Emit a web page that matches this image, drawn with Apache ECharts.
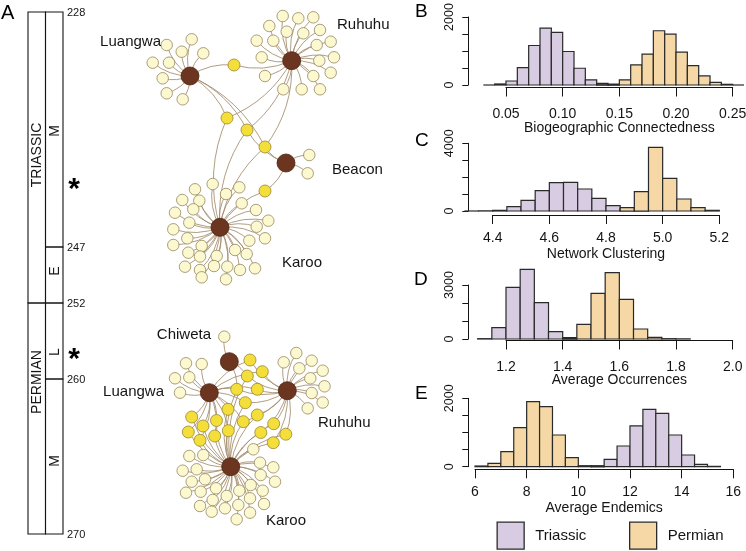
<!DOCTYPE html>
<html><head><meta charset="utf-8">
<script src="https://cdn.jsdelivr.net/npm/echarts@6/dist/echarts.min.js"></script>
<style>html,body{margin:0;padding:0;background:#fff}#c{width:746px;height:551px}</style>
</head><body><div id="c"></div>
<script>
// ================= DATA =================
// Panel A: geologic time scale (Ma)
const boundaryAges = [228, 247, 252, 260, 270];
const periodNames = ['TRIASSIC', 'PERMIAN'];
const periodBounds = [[228, 252], [252, 270]];
const epochNames = ['M', 'E', 'L', 'M'];
const epochBounds = [[228, 247], [247, 252], [252, 260], [260, 270]];
const starAges = [241.8, 257.2];

// Panel B: Biogeographic Connectedness (bin width 0.01)
const bTriStart = 0.03, bPermStart = 0.13, bWidth = 0.01;
const bTriassic = [0, 30, 118, 512, 1162, 1675, 1547, 985, 493, 148, 49, 20];
const bPermian  = [5, 20, 148, 591, 906, 1596, 1497, 965, 571, 266, 79, 20, 0];
// Panel C: Network Clustering (bin width 0.05)
const cTriStart = 4.30, cPermStart = 4.85, cWidth = 0.05;
const cTriassic = [0, 10, 39, 256, 630, 1202, 1675, 1695, 1300, 749, 315, 138, 20];
const cPermian  = [197, 1143, 3763, 1931, 709, 197, 39];
// Panel D: Average Occurrences (bin width 0.05)
const dTriStart = 1.10, dPermStart = 1.40, dWidth = 0.05;
const dTriassic = [18, 630, 2870, 3870, 2018, 407, 74];
const dPermian  = [37, 815, 2537, 3685, 2204, 556, 93, 18, 9];
// Panel E: Average Endemics (bin width 0.5)
const ePermStart = 6.0, eTriStart = 10.5, eWidth = 0.5;
const ePermian  = [20, 98, 439, 1142, 1903, 1757, 927, 264, 29, 10];
const eTriassic = [29, 215, 605, 1191, 1679, 1562, 927, 342, 68, 10];

// Networks (layout coordinates of the drawn graph)
const triHubNames = ['Luangwa', 'Ruhuhu', 'Beacon', 'Karoo'];
const triHubPos = [[190, 76], [291.7, 60.7], [286, 163], [220, 227.3]];
const triLuangwaLeaves = [[191.7,39.3],[166.7,45],[181.7,51.7],[203.3,53.3],[152.7,62.7],[169,62.7],[162.7,78.3],[166.7,93.3],[182.7,99.3]];
const triRuhuhuLeaves = [[282.7,16],[298.3,18.3],[313.3,17.3],[269.3,26],[286.7,31.7],[303.3,33.3],[320,30],[256.7,40.7],[273.3,40.7],[316.7,45],[330.7,41.7],[261.7,57.3],[319.3,60.7],[334,57.3],[265,76],[313.3,76],[330.7,72.7],[283.3,89.3],[301.7,89.3],[320,89.3]];
const triBeaconLeaves = [[309.3,155],[307.7,173.3]];
const triKarooLeaves = [[212.7,184],[239.3,187.3],[195,189.3],[226,194],[182.3,200],[199.3,200.7],[241.7,203.3],[193.3,209.3],[256,210],[175,212.7],[189.3,222.7],[268.3,220.7],[256.7,226.7],[173.3,229.3],[187.3,238.3],[249.3,240.7],[265,238.3],[173.3,245],[201.7,246],[235,250],[246.7,254],[188.3,252.7],[200,256.5],[216.7,256],[185,266.7],[200,270],[214,266],[227.3,266.7],[240,270],[255,268.3],[201.7,277.3],[226,279.3]];
const triShared = [[234,65],[227,118],[247,130],[265,147],[265,191]];
const triSharedHubs = [[0,1],[0,1,3],[0,1,2,3],[0,1,2,3],[2,3]];

const permHubNames = ['Chiweta', 'Luangwa', 'Ruhuhu', 'Karoo'];
const permHubPos = [[229.3,361.7],[209.3,392.7],[287.3,390.7],[230.7,466.7]];
const permChiwetaLeaves = [[224.3,336.7]];
const permLuangwaLeaves = [[186,363.3],[201.7,364],[175,378.3],[189.3,377.3],[180,392.7]];
const permRuhuhuLeaves = [[296.3,353],[283.7,362.3],[311.7,360.7],[299.3,368.3],[322.7,370.7],[310.3,378.3],[324.5,386.3],[311.7,393],[322.7,402.5],[307.7,408.3]];
const permKarooLeaves = [[253.3,449.3],[189.3,456],[203.3,455],[260,462.7],[273.3,467.3],[182.7,470.7],[196.7,469.3],[260.7,475],[275,481.7],[191.7,481.7],[205,479.3],[250.7,485],[262.7,490.7],[186,492.7],[200.7,491.7],[216,488.3],[239.3,490.7],[226.7,496],[212.7,500],[250,498.3],[264,504],[200,506],[238.3,505],[225,508.3],[211.7,511.7],[250,512.7],[236.7,519.3]];
const permShared = [[250,360],[262.3,371.7],[247.3,376],[236.7,389.3],[257.3,389.3],[245.3,402.7],[228,409.3],[191.7,417],[216.5,420.5],[243.3,421.7],[257.3,415],[273.7,423.7],[203,426],[228.3,430.7],[188.3,432],[214.7,436],[260.8,432.5],[285.8,434.2],[200,440.3],[273.3,442.7]];
const permSharedHubs = [[1,2],[1,2],[0,2,3],[0,1,2,3],[1,2],[1,2,3],[1,3],[1,3],[1,3],[1,2,3],[2,3],[2,3],[1,3],[1,3],[1,3],[1,3],[2,3],[2,3],[1,3],[2,3]];

const legendNames = ['Triassic', 'Permian'];

// ================= STYLE / LAYOUT =================
const FONT = '"Liberation Sans", Arial, Helvetica, sans-serif';
const INK = '#141414';
const TRI_FILL = '#d8cce2', PERM_FILL = '#f5d8a5', BAR_STROKE = '#2a2a2a';
// display position (px from column top) of each boundary age
const agePosMap = [[228, 0], [247, 235], [252, 291], [260, 367], [270, 522]];
function agePos(a) {
  for (let i = 1; i < agePosMap.length; i++) {
    const [a0, p0] = agePosMap[i - 1], [a1, p1] = agePosMap[i];
    if (a <= a1) return p0 + (a - a0) / (a1 - a0) * (p1 - p0);
  }
  return agePosMap[agePosMap.length - 1][1];
}
const periodLabelPos = [143, 370];
const epochLabelPos = [119, 259, 340, 449];

function bins(start, width, counts) {
  return counts.map((c, i) => [start + i * width, start + (i + 1) * width, c]);
}
function histRender(fill) {
  return function (params, api) {
    const c = api.value(2);
    const a = api.coord([api.value(0), 0]);
    const b = api.coord([api.value(1), c]);
    if (c <= 0) {
      return { type: 'line', shape: { x1: a[0], y1: a[1], x2: b[0], y2: a[1] },
        style: { stroke: BAR_STROKE, lineWidth: 1.2 } };
    }
    return { type: 'rect', shape: { x: a[0], y: b[1], width: b[0] - a[0], height: a[1] - b[1] },
      style: { fill: fill, stroke: BAR_STROKE, lineWidth: 1.2 } };
  };
}
function histSeries(name, idx, data, fill) {
  return { type: 'custom', name: name, xAxisIndex: idx, yAxisIndex: idx, clip: false,
    renderItem: histRender(fill), data: data, encode: { x: [0, 1], y: 2 },
    itemStyle: { color: fill, borderColor: BAR_STROKE, borderWidth: 1.2 }, silent: true, z: 3 };
}

const histPanels = [
  { grid: { left: 506, top: 17, width: 226.7, height: 68 }, min: 0.05, max: 0.25, interval: 0.05, dec: 2, xoff: 2.5,
    lm: 20, ng: 34, ymax: 2000, yint: 500, yoff: 37.7, name: 'Biogeographic Connectedness' },
  { grid: { left: 492.7, top: 143.3, width: 226.6, height: 67.7 }, min: 4.4, max: 5.2, interval: 0.2, dec: 1, xoff: 4,
    lm: 16, ng: 32, ymax: 4000, yint: 1000, yoff: 24.4, name: 'Network Clustering' },
  { grid: { left: 506, top: 285, width: 226.7, height: 54 }, min: 1.2, max: 2.0, interval: 0.2, dec: 1, xoff: 1.5,
    lm: 20, ng: 33, ymax: 3000, yint: 1000, yoff: 37.7, name: 'Average Occurrences' },
  { grid: { left: 475, top: 398.3, width: 258.3, height: 68.4 }, min: 6, max: 16, interval: 2, dec: 0, xoff: 2.6,
    lm: 16, ng: 32, ymax: 2000, yint: 500, yoff: 6.7, name: 'Average Endemics' }
];

const grids = [], xAxes = [], yAxes = [];
const axisLineStyle = { color: INK, width: 1 };
histPanels.forEach((p, i) => {
  grids.push(Object.assign({ containLabel: false, outerBoundsMode: 'none' }, p.grid));
  xAxes.push({ gridIndex: i, type: 'value', min: p.min, max: p.max, interval: p.interval, offset: p.xoff,
    axisLine: { show: true, onZero: false, lineStyle: axisLineStyle },
    axisTick: { show: true, inside: false, length: 9, lineStyle: axisLineStyle },
    splitLine: { show: false },
    axisLabel: { margin: p.lm, fontSize: 14, color: INK, fontFamily: FONT,
      formatter: v => Number(v).toFixed(p.dec) },
    name: p.name, nameLocation: 'middle', nameGap: p.ng, nameMoveOverlap: false,
    nameTextStyle: { fontSize: 14, color: INK, fontFamily: FONT } });
  yAxes.push({ gridIndex: i, type: 'value', min: 0, max: p.ymax, interval: p.yint, offset: p.yoff,
    axisLine: { show: true, lineStyle: axisLineStyle },
    axisTick: { show: true, inside: false, length: 6, lineStyle: axisLineStyle },
    splitLine: { show: false },
    axisLabel: { rotate: 90, margin: 12, fontSize: 12.5, color: INK, fontFamily: FONT,
      formatter: v => (v === 0 || v === p.ymax) ? String(v) : '' } });
});
// column grid (index 4) and network grid (index 5)
grids.push({ left: 28, top: 12, width: 35, height: 522, containLabel: false, outerBoundsMode: 'none' });
xAxes.push({ gridIndex: 4, type: 'value', min: 0, max: 2, show: false });
yAxes.push({ gridIndex: 4, type: 'value', min: 0, max: 522, inverse: true, show: false });
grids.push({ left: 130, top: 0, width: 240, height: 551, containLabel: false, outerBoundsMode: 'none' });
xAxes.push({ gridIndex: 5, type: 'value', min: 130, max: 370, show: false });
yAxes.push({ gridIndex: 5, type: 'value', min: 0, max: 551, inverse: true, show: false });

const series = [
  histSeries('Triassic', 0, bins(bTriStart, bWidth, bTriassic), TRI_FILL),
  histSeries('Permian', 0, bins(bPermStart, bWidth, bPermian), PERM_FILL),
  histSeries('Triassic', 1, bins(cTriStart, cWidth, cTriassic), TRI_FILL),
  histSeries('Permian', 1, bins(cPermStart, cWidth, cPermian), PERM_FILL),
  histSeries('Triassic', 2, bins(dTriStart, dWidth, dTriassic), TRI_FILL),
  histSeries('Permian', 2, bins(dPermStart, dWidth, dPermian), PERM_FILL),
  histSeries('Permian', 3, bins(ePermStart, eWidth, ePermian), PERM_FILL),
  histSeries('Triassic', 3, bins(eTriStart, eWidth, eTriassic), TRI_FILL)
];

// ---- Panel A column ----
function boxSeries(col, names, bounds, labelPos, fontSize) {
  return { type: 'custom', xAxisIndex: 4, yAxisIndex: 4, clip: false, silent: true,
    data: bounds.map((b, i) => [col, col + 1, agePos(b[0]), agePos(b[1]), labelPos[i]]),
    encode: { x: [0, 1], y: [2, 3] },
    renderItem: function (params, api) {
      const p0 = api.coord([api.value(0), api.value(2)]);
      const p1 = api.coord([api.value(1), api.value(3)]);
      const pl = api.coord([(api.value(0) + api.value(1)) / 2, api.value(4)]);
      return { type: 'group', children: [
        { type: 'rect', shape: { x: p0[0], y: p0[1], width: p1[0] - p0[0], height: p1[1] - p0[1] },
          style: { fill: 'none', stroke: INK, lineWidth: 1.1 } },
        { type: 'text', x: pl[0] + 0.5, y: pl[1], rotation: Math.PI / 2,
          style: { text: names[params.dataIndex], fill: INK, fontSize: fontSize, fontFamily: FONT,
            align: 'center', verticalAlign: 'middle' } }
      ] };
    } };
}
series.push(boxSeries(0, periodNames, periodBounds, periodLabelPos, 14));
series.push(boxSeries(1, epochNames, epochBounds, epochLabelPos, 14));
series.push({ type: 'custom', xAxisIndex: 4, yAxisIndex: 4, clip: false, silent: true,
  data: boundaryAges.map(a => [2, agePos(a), a]), encode: { x: 0, y: 1 },
  renderItem: function (params, api) {
    const p = api.coord([api.value(0), api.value(1)]);
    return { type: 'text', x: p[0] + 4, y: p[1] + 1,
      style: { text: String(api.value(2)), fill: INK, fontSize: 11, fontFamily: FONT,
        align: 'left', verticalAlign: 'middle' } };
  } });
series.push({ type: 'custom', xAxisIndex: 4, yAxisIndex: 4, clip: false, silent: true,
  data: starAges.map(a => [2, agePos(a)]), encode: { x: 0, y: 1 },
  renderItem: function (params, api) {
    const p = api.coord([api.value(0), api.value(1)]);
    return { type: 'text', x: p[0] + 11, y: p[1] + 7,
      style: { text: '*', fill: '#000', fontSize: 30, fontWeight: 'bold', fontFamily: FONT,
        align: 'center', verticalAlign: 'middle' } };
  } });

// ---- Networks ----
const LEAF = { color: '#fcf8cf', borderColor: '#97885c', borderWidth: 0.8 };
const SHARED = { color: '#f4df3a', borderColor: '#9a8530', borderWidth: 0.8 };
const HUB = { color: '#6b3520', borderColor: '#4a2414', borderWidth: 0.8 };
function buildNetwork(tag, hubPos, leafGroups, shared, sharedHubs) {
  const nodes = [], links = [];
  const hubId = h => tag + '-hub-' + h;
  leafGroups.forEach((leaves, h) => leaves.forEach((p, k) => {
    const id = tag + '-leaf-' + h + '-' + k;
    nodes.push({ name: id, value: p, symbolSize: 11.5, itemStyle: LEAF });
    links.push({ source: hubId(h), target: id });
  }));
  shared.forEach((p, k) => {
    const id = tag + '-shared-' + k;
    nodes.push({ name: id, value: p, symbolSize: 12, itemStyle: SHARED });
    sharedHubs[k].forEach(h => links.push({ source: hubId(h), target: id }));
  });
  hubPos.forEach((p, h) => nodes.push({ name: hubId(h), value: p, symbolSize: 18, itemStyle: HUB }));
  return { type: 'graph', coordinateSystem: 'cartesian2d', xAxisIndex: 5, yAxisIndex: 5,
    symbol: 'circle', data: nodes, links: links, silent: true, z: 2,
    lineStyle: { color: '#a38b6a', width: 0.85, opacity: 1, curveness: 0.18 },
    label: { show: false }, emphasis: { disabled: true } };
}
series.push(buildNetwork('T', triHubPos,
  [triLuangwaLeaves, triRuhuhuLeaves, triBeaconLeaves, triKarooLeaves], triShared, triSharedHubs));
series.push(buildNetwork('P', permHubPos,
  [permChiwetaLeaves, permLuangwaLeaves, permRuhuhuLeaves, permKarooLeaves], permShared, permSharedHubs));

// hub name labels (anchor, alignment)
const triLabelAnchors = [[161, 42, 'right'], [337, 25, 'left'], [332, 170, 'left'], [282, 263, 'left']];
const permLabelAnchors = [[211, 335, 'right'], [164, 392, 'right'], [318, 423, 'left'], [266, 521, 'left']];
function netLabelSeries(names, anchors) {
  return { type: 'custom', xAxisIndex: 5, yAxisIndex: 5, clip: false, silent: true, z: 4,
    data: anchors.map(a => [a[0], a[1]]), encode: { x: 0, y: 1 },
    renderItem: function (params, api) {
      const p = api.coord([api.value(0), api.value(1)]);
      return { type: 'text', x: p[0], y: p[1],
        style: { text: names[params.dataIndex], fill: INK, fontSize: 15, fontFamily: FONT,
          align: anchors[params.dataIndex][2], verticalAlign: 'middle' } };
    } };
}
series.push(netLabelSeries(triHubNames, triLabelAnchors));
series.push(netLabelSeries(permHubNames, permLabelAnchors));

const letterStyle = { fontSize: 19, fontWeight: 'normal', color: '#000', fontFamily: FONT };
const titles = [['A', 1, 3, 20], ['B', 415, 2, 19], ['C', 415, 131, 19], ['D', 414, 270, 19], ['E', 415, 384, 19]]
  .map(t => ({ text: t[0], left: t[1], top: t[2], padding: 0,
    textStyle: Object.assign({}, letterStyle, { fontSize: t[3] }) }));

function legendFor(name, left) {
  return { data: [{ name: name, icon: 'rect' }], left: left, top: 521.5, orient: 'horizontal',
    itemWidth: 27, itemHeight: 27, selectedMode: false, padding: 0,
    itemStyle: { borderColor: BAR_STROKE, borderWidth: 1.3 },
    textStyle: { fontSize: 15, color: INK, fontFamily: FONT, padding: [0, 0, 0, 6] } };
}

const chart = echarts.init(document.getElementById('c'), null, { renderer: 'canvas' });
chart.setOption({
  animation: false,
  backgroundColor: '#ffffff',
  textStyle: { fontFamily: FONT },
  title: titles,
  legend: [legendFor(legendNames[0], 496.5), legendFor(legendNames[1], 629)],
  grid: grids, xAxis: xAxes, yAxis: yAxes, series: series
});
</script></body></html>
